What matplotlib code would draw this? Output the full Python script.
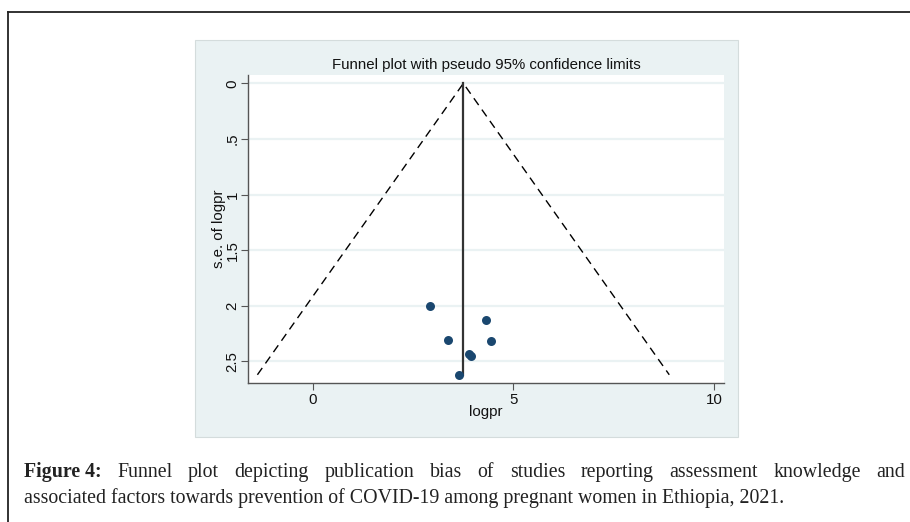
import matplotlib.pyplot as plt
import matplotlib.patches as mpatches
from matplotlib.lines import Line2D

logpr = [2.93, 4.31, 3.36, 4.43, 3.89, 3.95, 3.65]
se_logpr = [2.00, 2.13, 2.31, 2.32, 2.43, 2.45, 2.62]
pooled = 3.75
z95 = 1.96

xticks = [0, 5, 10]
yticks = [0, 0.5, 1, 1.5, 2, 2.5]
ytick_labels = ['0', '.5', '1', '1.5', '2', '2.5']

W, H = 910, 522
BG = '#EAF2F3'
NAVY = '#1A476F'

fig = plt.figure(figsize=(W / 100, H / 100), dpi=100)
fig.patch.set_facecolor('white')

def fx(px):
    return px / W

def fy(py):
    return 1 - py / H

# cadre de la page
fig.add_artist(Line2D([fx(8), fx(8)], [fy(12), 0], color='#222222', lw=1.3))
fig.add_artist(Line2D([fx(8), 1], [fy(12), fy(12)], color='#222222', lw=1.3))

# fond du graphique (style Stata)
panel = mpatches.Rectangle((fx(195), fy(437)), fx(738) - fx(195), fy(40) - fy(437),
                           transform=fig.transFigure, facecolor=BG,
                           edgecolor='#D4DCDC', lw=0.8, zorder=0)
fig.add_artist(panel)

ax = fig.add_axes([fx(248), fy(383), fx(724) - fx(248), fy(74.5) - fy(383)])
ax.set_facecolor('white')

se_max = max(se_logpr)
ax.plot([pooled - z95 * se_max, pooled, pooled + z95 * se_max], [se_max, 0, se_max],
        color='black', lw=1.0, ls=(0, (6, 4)), zorder=2)
ax.plot([pooled, pooled], [0, se_max], color='#333333', lw=1.6, zorder=3)
ax.scatter(logpr, se_logpr, s=42, color=NAVY, zorder=4, linewidths=0)

ax.set_xlim(-1.62, 10.25)
ax.set_ylim(2.694, -0.08)
ax.set_xticks(xticks)
ax.set_xticklabels([str(t) for t in xticks])
ax.set_yticks(yticks)
ax.set_yticklabels(ytick_labels, rotation=90, va='center')

for s in ['top', 'right']:
    ax.spines[s].set_visible(False)
for s in ['left', 'bottom']:
    ax.spines[s].set_color('#555555')
    ax.spines[s].set_linewidth(1.0)

ax.grid(axis='y', color=BG, lw=1.6, zorder=0)
ax.set_axisbelow(True)
ax.tick_params(axis='both', length=5, width=0.8, color='#555555',
               labelsize=10.8, labelcolor='#111111', pad=2)
ax.tick_params(axis='y', pad=1)
for lab in ax.get_xticklabels() + ax.get_yticklabels():
    lab.set_family('Liberation Sans')

ax.set_xlabel('logpr', family='Liberation Sans', fontsize=10.8, labelpad=-1, color='#111111')
ax.set_ylabel('s.e. of logpr', family='Liberation Sans', fontsize=10.8, labelpad=0, color='#111111')
fig.text(fx(486), fy(69), 'Funnel plot with pseudo 95% confidence limits',
         family='Liberation Sans', fontsize=10.8, ha='center', va='baseline', color='#111111')

# légende de la figure (première ligne justifiée)
cap_size = 14.3
cap_bold = 'Figure 4:'
cap_line1 = 'Funnel plot depicting publication bias of studies reporting assessment knowledge and'
cap_line2 = 'associated factors towards prevention of COVID-19 among pregnant women in Ethiopia, 2021.'
cap_kw = dict(family='Liberation Serif', fontsize=cap_size, va='baseline', color='#222222')

renderer = fig.canvas.get_renderer()
words = [(cap_bold, 'bold')] + [(w, 'normal') for w in cap_line1.split()]
objs = []
for w, weight in words:
    objs.append(fig.text(0, fy(477), w, fontweight=weight, **cap_kw))
widths = [o.get_window_extent(renderer).width for o in objs]
x_left, x_right = 24, 905
gap = (x_right - x_left - sum(widths)) / (len(objs) - 1)
xpos = x_left
for o, wd in zip(objs, widths):
    o.set_x(fx(xpos))
    xpos += wd + gap

fig.text(fx(24), fy(503), cap_line2, **cap_kw)

fig.savefig('out.png', dpi=100)
